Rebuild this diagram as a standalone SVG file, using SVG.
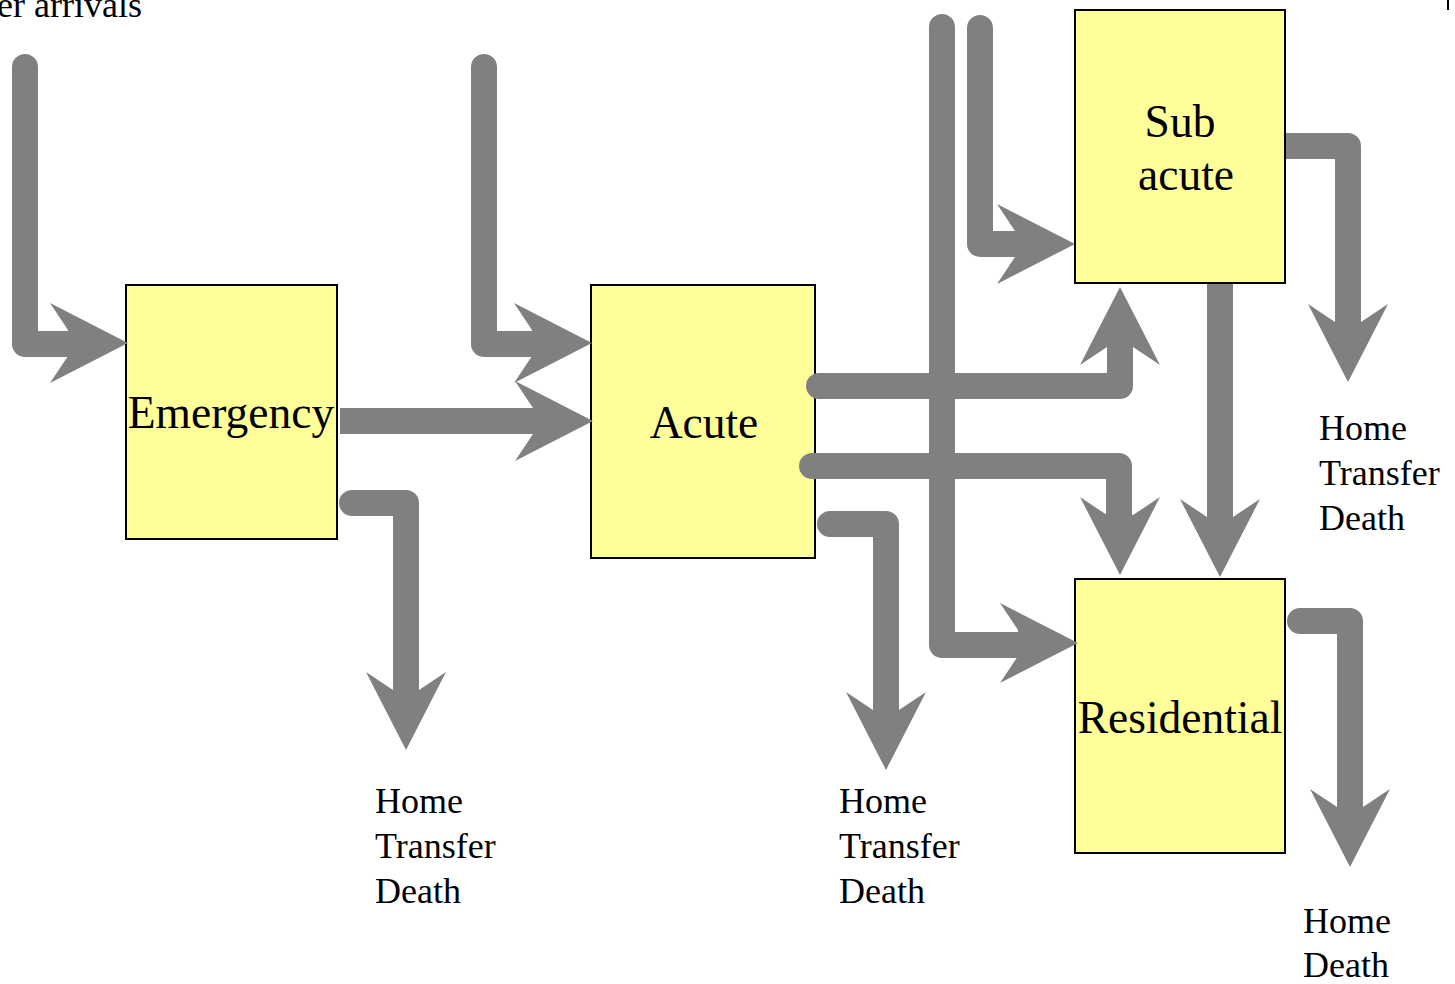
<svg xmlns="http://www.w3.org/2000/svg" width="1455" height="984" viewBox="0 0 1455 984">
<style>
.box{fill:#ffff99;stroke:#000;stroke-width:2}
.nt{font-size:45.5px;fill:#000;text-anchor:middle}
.lb{font-size:36px;fill:#000}
.sh{fill:none;stroke:#808080;stroke-width:26;stroke-linejoin:round}
.rc{stroke-linecap:round}
.hd{fill:#808080}
</style>
<defs>
<path id="ah" d="M0,0 L-78,-40 L-60,-13 L-60,13 L-78,40 Z"/>
</defs>
<rect x="0" y="0" width="1455" height="984" fill="#fff"/>
<g font-family="'Liberation Serif', 'Times New Roman', Times, serif">
<text class="lb" x="-3" y="17">er arrivals</text>
</g>
<rect x="1447" y="0" width="2" height="10" fill="#000"/>
<g font-family="'Liberation Serif', 'Times New Roman', Times, serif">
<g id="emergency">
<rect class="box" x="126" y="285" width="211" height="254"/>
<text class="nt" x="231" y="428">Emergency</text>
</g>
<g id="acute">
<rect class="box" x="591" y="285" width="224" height="273"/>
<text class="nt" x="704" y="438">Acute</text>
</g>
<g id="subacute">
<rect class="box" x="1075" y="10" width="210" height="273"/>
<text class="nt" x="1180" y="137">Sub</text>
<text class="nt" x="1186" y="190">acute</text>
</g>
<g id="residential">
<rect class="box" x="1075" y="579" width="210" height="274"/>
<text class="nt" x="1180" y="733">Residential</text>
</g>
</g>
<g id="connectors">
<path class="sh rc" d="M25,67 V344 H72"/>
<use href="#ah" class="hd" transform="translate(128,343)"/>
<path class="sh rc" d="M484,67 V344 H536"/>
<use href="#ah" class="hd" transform="translate(592,343)"/>
<path class="sh" d="M340,421 H537"/>
<use href="#ah" class="hd" transform="translate(593,421)"/>
<path class="sh rc" d="M352,503 H406 V694"/>
<use href="#ah" class="hd" transform="translate(406,750) rotate(90)"/>
<path class="sh rc" d="M819,386 H1120 V343"/>
<use href="#ah" class="hd" transform="translate(1120,287) rotate(-90)"/>
<path class="sh rc" d="M812,466 H1119 V519"/>
<use href="#ah" class="hd" transform="translate(1120,575) rotate(90)"/>
<path class="sh rc" d="M830,524 H886 V714"/>
<use href="#ah" class="hd" transform="translate(886,770) rotate(90)"/>
<path class="sh rc" d="M942,27 V645 H1022"/>
<use href="#ah" class="hd" transform="translate(1078,643)"/>
<path class="sh rc" d="M980,28 V244 H1018"/>
<use href="#ah" class="hd" transform="translate(1075,244)"/>
<path class="sh" d="M1286,146 H1348 V326"/>
<use href="#ah" class="hd" transform="translate(1348,382) rotate(90)"/>
<path class="sh" d="M1220,284 V521"/>
<use href="#ah" class="hd" transform="translate(1220,577) rotate(90)"/>
<path class="sh rc" d="M1300,621 H1350 V811"/>
<use href="#ah" class="hd" transform="translate(1350,867) rotate(90)"/>
</g>
<g id="labels" font-family="'Liberation Serif', 'Times New Roman', Times, serif">
<text class="lb" x="375" y="813">Home</text>
<text class="lb" x="375" y="858">Transfer</text>
<text class="lb" x="375" y="903">Death</text>
<text class="lb" x="839" y="813">Home</text>
<text class="lb" x="839" y="858">Transfer</text>
<text class="lb" x="839" y="903">Death</text>
<text class="lb" x="1319" y="440">Home</text>
<text class="lb" x="1319" y="485">Transfer</text>
<text class="lb" x="1319" y="530">Death</text>
<text class="lb" x="1303" y="933">Home</text>
<text class="lb" x="1303" y="977">Death</text>
</g>
</svg>
